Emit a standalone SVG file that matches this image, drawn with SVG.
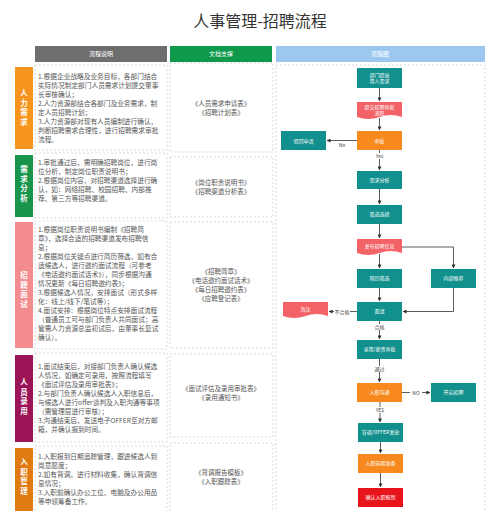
<svg xmlns="http://www.w3.org/2000/svg" width="500" height="511" viewBox="0 0 500 511">
<style>
text{font-family:"Noto Sans CJK SC","Noto Sans",sans-serif}
.title{font-size:16px;fill:#333;text-anchor:middle}
.hd{font-size:6px;fill:#fff;text-anchor:middle}
.box{fill:#fff;stroke:#cfcfcf;stroke-width:0.8;stroke-dasharray:2,2}
.lbl{font-size:7.5px;fill:#fff;font-weight:bold;text-anchor:middle}
.desc{font-size:6.7px;fill:#555}
.doc{font-size:6.5px;fill:#555;text-anchor:middle}
.nt{font-size:5px;fill:#fff;text-anchor:middle}
.teal{fill:#11908D}
.orange{fill:#F7891E}
.pink{fill:#F26266}
.red{fill:#E8141B}
.cn{fill:none;stroke:#333;stroke-width:0.8}
.el{font-size:5px;fill:#444;text-anchor:middle}
</style>
<defs>
<marker id="ar" viewBox="0 0 10 10" refX="9" refY="5" markerWidth="5" markerHeight="5" orient="auto"><path d="M0,0 L10,5 L0,10 z" fill="#333"/></marker>
</defs>
<rect width="500" height="511" fill="#fff"/>
<text class="title" x="260" y="27">人事管理-招聘流程</text>

<g id="headers">
<rect x="35" y="46" width="132" height="16" fill="#6E6E6E"/>
<text class="hd" x="101" y="56">流程说明</text>
<rect x="170" y="46" width="102" height="16" fill="#0E9A4A"/>
<text class="hd" x="221" y="56">文档支撑</text>
<rect x="276" y="46" width="209" height="16" fill="#9CC8F0"/>
<text class="hd" x="380" y="56">流程图</text>
</g>

<g id="sec1">
<rect x="15" y="67" width="18" height="82" fill="#F7941D"/>
<text class="lbl"><tspan x="24" y="96">人</tspan><tspan x="24" dy="9.5">力</tspan><tspan x="24" dy="9.5">需</tspan><tspan x="24" dy="9.5">求</tspan></text>
<rect class="box" x="35" y="65" width="132" height="85"/>
<text class="desc"><tspan x="38" y="79">1.根据企业战略及业务目标，各部门结合</tspan><tspan x="38" dy="9">实际情况制定部门人员需求计划提交董事</tspan><tspan x="38" dy="9">长审核确认；</tspan><tspan x="38" dy="9">2.人力资源部结合各部门及业务需求，制</tspan><tspan x="38" dy="9">定人员招聘计划；</tspan><tspan x="38" dy="9">3.人力资源部对现有人员编制进行确认，</tspan><tspan x="38" dy="9">判断招聘需求合理性，进行招聘需求审批</tspan><tspan x="38" dy="9">流程。</tspan></text>
<rect class="box" x="170" y="63" width="103" height="89"/>
<text class="doc"><tspan x="221" y="106">《人员需求申请表》</tspan><tspan x="221" dy="9">《招聘计划表》</tspan></text>
</g>

<g id="sec2">
<rect x="15" y="155" width="18" height="62" fill="#19944B"/>
<text class="lbl"><tspan x="24" y="172">需</tspan><tspan x="24" dy="9.5">求</tspan><tspan x="24" dy="9.5">分</tspan><tspan x="24" dy="9.5">析</tspan></text>
<rect class="box" x="35" y="153" width="132" height="65"/>
<text class="desc"><tspan x="38" y="165">1.审批通过后，需明确招聘岗位，进行岗</tspan><tspan x="38" dy="9">位分析，制定岗位职责说明书；</tspan><tspan x="38" dy="9">2.根据岗位内容，对招聘渠道选择进行确</tspan><tspan x="38" dy="9">认，如：网络招聘、校园招聘、内部推</tspan><tspan x="38" dy="9">荐、第三方等招聘渠道。</tspan></text>
<rect class="box" x="170" y="157" width="103" height="60"/>
<text class="doc"><tspan x="221" y="185">《岗位职责说明书》</tspan><tspan x="221" dy="9">《招聘渠道分析表》</tspan></text>
</g>

<g id="sec3">
<rect x="15" y="222" width="18" height="126" fill="#F48B8F"/>
<text class="lbl"><tspan x="24" y="278">招</tspan><tspan x="24" dy="9.5">聘</tspan><tspan x="24" dy="9.5">面</tspan><tspan x="24" dy="9.5">试</tspan></text>
<rect class="box" x="35" y="221" width="132" height="128"/>
<text class="desc"><tspan x="38" y="232">1.根据岗位职责说明书编制《招聘简</tspan><tspan x="38" dy="9">章》，选择合适的招聘渠道发布招聘信</tspan><tspan x="38" dy="9">息；</tspan><tspan x="38" dy="9">2.根据岗位关键点进行简历筛选，如有合</tspan><tspan x="38" dy="9">适候选人，进行邀约面试流程（可参考</tspan><tspan x="38" dy="9">《电话邀约面试话术》），同步根据沟通</tspan><tspan x="38" dy="9">情况更新《每日招聘邀约表》；</tspan><tspan x="38" dy="9">3.根据候选人情况，安排面试（形式多样</tspan><tspan x="38" dy="9">化：线上/线下/笔试等）；</tspan><tspan x="38" dy="9">4.面试安排：根据岗位特点安排面试流程</tspan><tspan x="38" dy="9">（普通员工可与部门负责人共同面试；高</tspan><tspan x="38" dy="9">管需人力资源总监初试后，由董事长复试</tspan><tspan x="38" dy="9">确认）。</tspan></text>
<rect class="box" x="170" y="222" width="103" height="126"/>
<text class="doc"><tspan x="221" y="274">《招聘简章》</tspan><tspan x="221" dy="9">《电话邀约面试话术》</tspan><tspan x="221" dy="9">《每日招聘邀约表》</tspan><tspan x="221" dy="9">《应聘登记表》</tspan></text>
</g>

<g id="sec4">
<rect x="15" y="355" width="18" height="87" fill="#9C1458"/>
<text class="lbl"><tspan x="24" y="385">人</tspan><tspan x="24" dy="9.5">员</tspan><tspan x="24" dy="9.5">录</tspan><tspan x="24" dy="9.5">用</tspan></text>
<rect class="box" x="35" y="353" width="132" height="89"/>
<text class="desc"><tspan x="38" y="369">1.面试结束后，对接部门负责人确认候选</tspan><tspan x="38" dy="9">人情况，如确定可录用，按照流程填写</tspan><tspan x="38" dy="9">《面试评估及录用审批表》；</tspan><tspan x="38" dy="9">2.与部门负责人确认候选人入职信息后，</tspan><tspan x="38" dy="9">与候选人进行offer谈判及入职沟通等事项</tspan><tspan x="38" dy="9">（需管理层进行审核）；</tspan><tspan x="38" dy="9">3.沟通结束后，发送电子OFFER至对方邮</tspan><tspan x="38" dy="9">箱，并确认报到时间。</tspan></text>
<rect class="box" x="170" y="354" width="103" height="83"/>
<text class="doc"><tspan x="221" y="391">《面试评估及录用审批表》</tspan><tspan x="221" dy="9">《录用通知书》</tspan></text>
</g>

<g id="sec5">
<rect x="15" y="448" width="18" height="63" fill="#E07B14"/>
<text class="lbl"><tspan x="24" y="465">入</tspan><tspan x="24" dy="9.5">职</tspan><tspan x="24" dy="9.5">管</tspan><tspan x="24" dy="9.5">理</tspan></text>
<rect class="box" x="35" y="446" width="132" height="70"/>
<text class="desc"><tspan x="38" y="459">1.入职报到日期追踪管理，跟进候选人到</tspan><tspan x="38" dy="9">岗意愿度；</tspan><tspan x="38" dy="9">2.如有背调，进行材料收集，确认背调信</tspan><tspan x="38" dy="9">息情况；</tspan><tspan x="38" dy="9">3.入职前确认办公工位、电脑及办公用品</tspan><tspan x="38" dy="9">等申领筹备工作。</tspan></text>
<rect class="box" x="170" y="443" width="103" height="73"/>
<text class="doc"><tspan x="221" y="475">《背调报告模板》</tspan><tspan x="221" dy="9">《入职跟踪表》</tspan></text>
</g>

<rect id="flowframe" class="box" x="276" y="65" width="209" height="451"/>

<g id="connectors">
<line class="cn" x1="379.5" y1="88" x2="379.5" y2="101" marker-end="url(#ar)"/>
<line class="cn" x1="379.5" y1="118" x2="379.5" y2="130" marker-end="url(#ar)"/>
<line class="cn" x1="357" y1="140.5" x2="327" y2="140.5" marker-end="url(#ar)"/>
<text class="el" x="342" y="147">No</text>
<line class="cn" x1="379.5" y1="150" x2="379.5" y2="170" marker-end="url(#ar)"/>
<rect x="372" y="153" width="15" height="6" fill="#fff"/>
<text class="el" x="379.5" y="158">Yes</text>
<line class="cn" x1="379.5" y1="189" x2="379.5" y2="204" marker-end="url(#ar)"/>
<line class="cn" x1="379.5" y1="224" x2="379.5" y2="238" marker-end="url(#ar)"/>
<path class="cn" d="M402,247 H453.5 V268" marker-end="url(#ar)"/>
<line class="cn" x1="379.5" y1="254" x2="379.5" y2="268" marker-end="url(#ar)"/>
<line class="cn" x1="379.5" y1="288" x2="379.5" y2="301" marker-end="url(#ar)"/>
<path class="cn" d="M453.5,288 V311.5 H403" marker-end="url(#ar)"/>
<line class="cn" x1="357" y1="311.5" x2="329" y2="311.5" marker-end="url(#ar)"/>
<rect x="334" y="309" width="16" height="6" fill="#fff"/>
<text class="el" x="342" y="313.5">不合格</text>
<line class="cn" x1="379.5" y1="321" x2="379.5" y2="339" marker-end="url(#ar)"/>
<rect x="373" y="324" width="13" height="6" fill="#fff"/>
<text class="el" x="379.5" y="329">合格</text>
<line class="cn" x1="379.5" y1="359" x2="379.5" y2="382" marker-end="url(#ar)"/>
<rect x="373" y="366" width="13" height="6" fill="#fff"/>
<text class="el" x="379.5" y="371">通过</text>
<line class="cn" x1="402" y1="392.5" x2="430" y2="392.5" marker-end="url(#ar)"/>
<rect x="410" y="390" width="12" height="6" fill="#fff"/>
<text class="el" x="416" y="394.5">NO</text>
<line class="cn" x1="380" y1="402" x2="380" y2="422" marker-end="url(#ar)"/>
<rect x="373" y="407" width="14" height="6" fill="#fff"/>
<text class="el" x="380" y="412">YES</text>
<line class="cn" x1="380.5" y1="442" x2="380.5" y2="453" marker-end="url(#ar)"/>
<line class="cn" x1="380.5" y1="473" x2="380.5" y2="487" marker-end="url(#ar)"/>
</g>

<g id="n1"><rect class="teal" x="357" y="68" width="45" height="20"/><text class="nt"><tspan x="379.5" y="77">部门提出</tspan><tspan x="379.5" dy="6">用人需求</tspan></text></g>
<g id="n2"><path class="pink" d="M357,102 h45 v15 q-11.25,-4 -22.5,0 t-22.5,0 z"/><text class="nt"><tspan x="379.5" y="109">提交招聘审批</tspan><tspan x="379.5" dy="6">流程</tspan></text></g>
<g id="n3"><rect class="orange" x="357" y="131" width="45" height="19"/><text class="nt" x="379.5" y="142.5">审批</text></g>
<g id="n4"><rect class="teal" x="281" y="131" width="45" height="19"/><text class="nt" x="303.5" y="142.5">驳回申请</text></g>
<g id="n5"><rect class="teal" x="357" y="171" width="45" height="18"/><text class="nt" x="379.5" y="181.8">需求分析</text></g>
<g id="n6"><rect class="teal" x="357" y="205" width="45" height="19"/><text class="nt" x="379.5" y="216.3">渠道选择</text></g>
<g id="n7"><path class="pink" d="M357,239 h45 v14 q-11.25,-4 -22.5,0 t-22.5,0 z"/><text class="nt" x="379.5" y="248">发布招聘信息</text></g>
<g id="n8"><rect class="teal" x="357" y="269" width="45" height="19"/><text class="nt" x="379.5" y="280.3">简历筛选</text></g>
<g id="n9"><rect class="teal" x="431" y="269" width="45" height="19"/><text class="nt" x="453.5" y="280.3">内部推荐</text></g>
<g id="n10"><rect class="teal" x="357" y="302" width="45" height="19"/><text class="nt" x="379.5" y="313.3">面试</text></g>
<g id="n11"><path class="pink" d="M283,302 h45 v14 q-11.25,-4 -22.5,0 t-22.5,0 z"/><text class="nt" x="305.5" y="311">淘汰</text></g>
<g id="n12"><rect class="teal" x="357" y="340" width="45" height="19"/><text class="nt" x="379.5" y="351.3">录用/薪资审批</text></g>
<g id="n13"><rect class="orange" x="357" y="383" width="45" height="19"/><text class="nt" x="379.5" y="394.3">入职沟通</text></g>
<g id="n14"><rect class="teal" x="431" y="383" width="45" height="19"/><text class="nt" x="453.5" y="394.3">开启招聘</text></g>
<g id="n15"><rect class="teal" x="358" y="423" width="45" height="19"/><text class="nt" x="380.5" y="434.3">背调/OFFER发放</text></g>
<g id="n16"><rect class="orange" x="358" y="454" width="45" height="19"/><text class="nt" x="380.5" y="465.3">入职前期准备</text></g>
<g id="n17"><rect class="red" x="358" y="488" width="45" height="19"/><text class="nt" x="380.5" y="499.3">确认入职报到</text></g>
</svg>
